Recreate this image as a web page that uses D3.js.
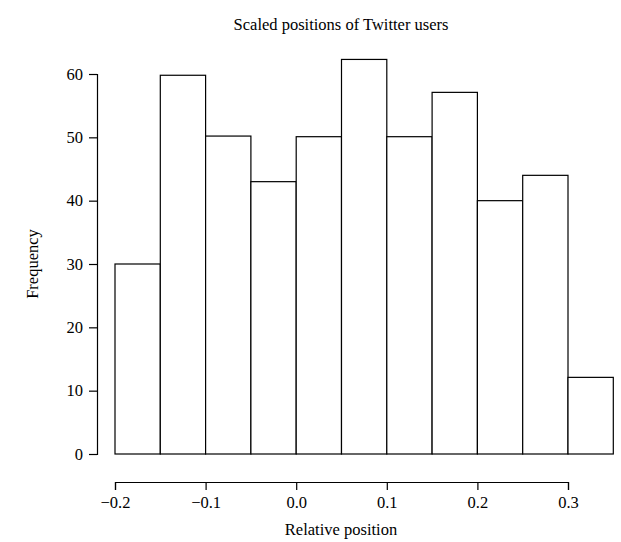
<!DOCTYPE html>
<html><head><meta charset="utf-8">
<script src="https://cdn.jsdelivr.net/npm/d3@7"></script>
<style>body{margin:0;background:#fff}text{font-family:"Liberation Serif",serif;fill:#000}</style>
</head><body><svg id="c" width="621" height="542"></svg>
<script>
const binStarts = [-0.2,-0.15,-0.1,-0.05,0,0.05,0.1,0.15,0.2,0.25,0.3];
const binWidth = 0.05;
const counts = [30,59.8,50.2,43,50.1,62.3,50.1,57.1,40,44,12.1];
const xTicks = [-0.2,-0.1,0.0,0.1,0.2,0.3];
const yTicks = [0,10,20,30,40,50,60];
const svg = d3.select("#c");
const x = d3.scaleLinear().domain([-0.2,0.3]).range([115,568]);
const y = d3.scaleLinear().domain([0,60]).range([454,74]);
svg.selectAll("rect").data(binStarts).join("rect")
  .attr("x",d=>x(d)).attr("width",(d)=>x(d+binWidth)-x(d))
  .attr("y",(d,i)=>y(counts[i])).attr("height",(d,i)=>y(0)-y(counts[i]))
  .attr("fill","#fff").attr("stroke","#000").attr("stroke-width",1.2);
const fmt = d=>d<0?"\u2212"+Math.abs(d).toFixed(1):d.toFixed(1);
const xa = svg.append("g").attr("transform","translate(0,482)")
  .call(d3.axisBottom(x).tickValues(xTicks).tickFormat(fmt).tickSizeOuter(0).tickSize(8).tickPadding(6));
const ya = svg.append("g").attr("transform","translate(97,0)")
  .call(d3.axisLeft(y).tickValues(yTicks).tickSizeOuter(0).tickSize(8).tickPadding(6));
[xa,ya].forEach(a=>{a.selectAll("text").style("font-size","16.5px").attr("font-family","Liberation Serif");a.selectAll("line,path").attr("stroke","#000").attr("stroke-width",1.2);});
svg.append("text").attr("x",341).attr("y",30).attr("text-anchor","middle").style("font-size","16.5px").text("Scaled positions of Twitter users");
svg.append("text").attr("x",341).attr("y",535).attr("text-anchor","middle").style("font-size","16.5px").text("Relative position");
svg.append("text").attr("transform","translate(38,264) rotate(-90)").attr("text-anchor","middle").style("font-size","16.5px").text("Frequency");
</script></body></html>
